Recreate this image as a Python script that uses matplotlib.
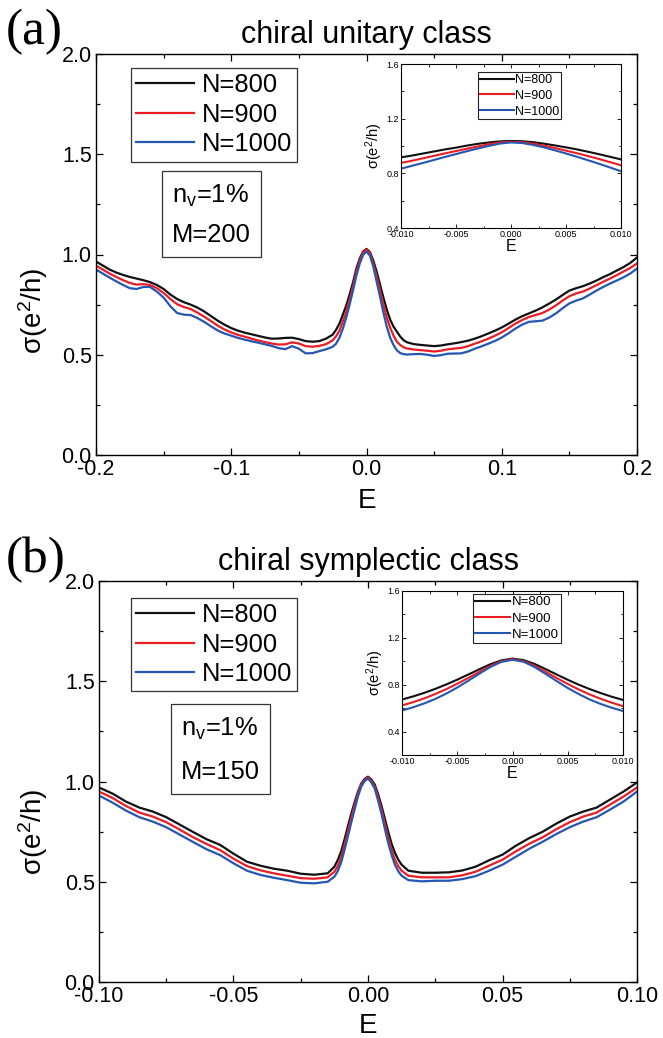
import numpy as np
import matplotlib
matplotlib.use("Agg")
import matplotlib.pyplot as plt
from matplotlib.ticker import MultipleLocator, FormatStrFormatter

plt.rcParams['font.family'] = ['Liberation Sans', 'DejaVu Sans']
plt.rcParams['mathtext.default'] = 'regular'
plt.rcParams['axes.unicode_minus'] = False

labels = ["N=800", "N=900", "N=1000"]
colors = ["#111111", "#ec1c24", "#2456b2"]

# (a) chiral unitary class, M=200
E_a = [-0.200, -0.195, -0.190, -0.185, -0.180, -0.175, -0.170, -0.165, -0.160, -0.155,
       -0.150, -0.145, -0.140, -0.135, -0.130, -0.125, -0.120, -0.115, -0.110, -0.105,
       -0.100, -0.095, -0.090, -0.085, -0.080, -0.075, -0.070, -0.065, -0.060, -0.055,
       -0.050, -0.045, -0.040, -0.035, -0.030,
       -0.0275, -0.025, -0.0225, -0.020, -0.0175, -0.015, -0.0125, -0.010, -0.0075, -0.005,
       -0.0025, 0.0, 0.0025, 0.005, 0.0075, 0.010, 0.0125, 0.015, 0.0175, 0.020,
       0.0225, 0.025, 0.0275,
       0.030, 0.035, 0.040, 0.045, 0.050, 0.055, 0.060, 0.065, 0.070, 0.075,
       0.080, 0.085, 0.090, 0.095, 0.100, 0.105, 0.110, 0.115, 0.120, 0.125,
       0.130, 0.135, 0.140, 0.145, 0.150, 0.155, 0.160, 0.165, 0.170, 0.175,
       0.180, 0.185, 0.190, 0.195, 0.200]
sig_a_800 = [0.965, 0.945, 0.925, 0.910, 0.898, 0.888, 0.880, 0.872, 0.862, 0.848,
             0.828, 0.800, 0.778, 0.762, 0.750, 0.735, 0.716, 0.693, 0.670, 0.650,
             0.633, 0.620, 0.610, 0.602, 0.594, 0.586, 0.580, 0.581, 0.584, 0.585,
             0.578, 0.568, 0.565, 0.568, 0.580,
             0.590, 0.600, 0.625, 0.655, 0.700, 0.745, 0.800, 0.860, 0.930, 0.980,
             1.015, 1.028, 1.012, 0.970, 0.915, 0.850, 0.785, 0.725, 0.675, 0.640,
             0.615, 0.590, 0.572,
             0.562, 0.553, 0.549, 0.546, 0.543, 0.546, 0.552, 0.557, 0.563, 0.570,
             0.580, 0.592, 0.606, 0.620, 0.636, 0.655, 0.675, 0.692, 0.706, 0.720,
             0.736, 0.755, 0.775, 0.798, 0.820, 0.832, 0.842, 0.855, 0.870, 0.887,
             0.902, 0.920, 0.937, 0.958, 0.985]
sig_a_900 = [0.945, 0.925, 0.905, 0.888, 0.872, 0.858, 0.850, 0.852, 0.848, 0.832,
             0.808, 0.778, 0.752, 0.738, 0.728, 0.710, 0.690, 0.668, 0.645, 0.626,
             0.611, 0.599, 0.590, 0.580, 0.571, 0.563, 0.556, 0.551, 0.552, 0.562,
             0.556, 0.543, 0.540, 0.544, 0.553,
             0.562, 0.572, 0.592, 0.620, 0.665, 0.715, 0.775, 0.840, 0.915, 0.970,
             1.010, 1.025, 1.005, 0.955, 0.890, 0.820, 0.750, 0.685, 0.635, 0.595,
             0.565, 0.548, 0.537,
             0.531, 0.526, 0.523, 0.520, 0.516, 0.520, 0.527, 0.531, 0.534, 0.543,
             0.555, 0.567, 0.580, 0.595, 0.612, 0.633, 0.655, 0.673, 0.688, 0.698,
             0.708, 0.725, 0.746, 0.770, 0.792, 0.806, 0.815, 0.830, 0.847, 0.864,
             0.880, 0.897, 0.915, 0.933, 0.955]
sig_a_1000 = [0.925, 0.905, 0.885, 0.866, 0.848, 0.832, 0.828, 0.838, 0.838, 0.815,
              0.785, 0.742, 0.708, 0.700, 0.698, 0.683, 0.664, 0.642, 0.621, 0.606,
              0.595, 0.584, 0.575, 0.567, 0.560, 0.552, 0.544, 0.533, 0.528, 0.543,
              0.530, 0.507, 0.508, 0.518, 0.527,
              0.533, 0.540, 0.555, 0.585, 0.630, 0.685, 0.750, 0.820, 0.895, 0.955,
              0.998, 1.015, 0.995, 0.940, 0.865, 0.790, 0.710, 0.640, 0.585, 0.548,
              0.522, 0.508, 0.503,
              0.501, 0.503, 0.504, 0.500, 0.494, 0.498, 0.505, 0.506, 0.507, 0.516,
              0.530, 0.542, 0.555, 0.569, 0.586, 0.607, 0.630, 0.650, 0.664, 0.667,
              0.670, 0.685, 0.706, 0.732, 0.756, 0.770, 0.781, 0.800, 0.820, 0.838,
              0.855, 0.870, 0.886, 0.905, 0.930]

# (b) chiral symplectic class, M=150
E_b = [-0.10, -0.095, -0.09, -0.085, -0.08, -0.075, -0.07, -0.065, -0.06, -0.055, -0.05,
       -0.045, -0.04, -0.035, -0.03, -0.025, -0.02, -0.015, -0.0125, -0.01125, -0.01,
       -0.00875, -0.0075, -0.00625, -0.005, -0.00375, -0.0025, -0.00125, 0.0,
       0.00125, 0.0025, 0.00375, 0.005, 0.00625, 0.0075, 0.00875, 0.01, 0.01125, 0.0125,
       0.015, 0.02, 0.025,
       0.03, 0.035, 0.04, 0.045, 0.05, 0.055, 0.06, 0.065, 0.07, 0.075, 0.08, 0.085,
       0.09, 0.095, 0.10]
sig_b_800 = [0.970, 0.940, 0.900, 0.870, 0.850, 0.822, 0.785, 0.748, 0.712, 0.684, 0.640,
             0.600, 0.580, 0.565, 0.555, 0.540, 0.535, 0.542, 0.575, 0.608, 0.650,
             0.710, 0.775, 0.838, 0.895, 0.948, 0.990, 1.013, 1.024,
             1.010, 0.985, 0.937, 0.880, 0.815, 0.750, 0.690, 0.645, 0.610, 0.585,
             0.555, 0.545, 0.545,
             0.547, 0.556, 0.575, 0.607, 0.635, 0.680, 0.718, 0.750, 0.790, 0.825, 0.850, 0.870,
             0.910, 0.950, 0.995]
sig_b_900 = [0.950, 0.918, 0.878, 0.845, 0.825, 0.797, 0.760, 0.722, 0.688, 0.658, 0.615,
             0.578, 0.557, 0.542, 0.530, 0.518, 0.515, 0.522, 0.550, 0.578, 0.620,
             0.683, 0.750, 0.818, 0.880, 0.938, 0.985, 1.008, 1.020,
             1.003, 0.975, 0.922, 0.860, 0.790, 0.720, 0.660, 0.610, 0.578, 0.555,
             0.530, 0.522, 0.522,
             0.522, 0.532, 0.550, 0.580, 0.610, 0.652, 0.690, 0.722, 0.762, 0.797, 0.825, 0.845,
             0.885, 0.925, 0.970]
sig_b_1000 = [0.930, 0.895, 0.855, 0.822, 0.800, 0.772, 0.735, 0.698, 0.662, 0.633, 0.592,
              0.555, 0.534, 0.520, 0.508, 0.495, 0.492, 0.500, 0.525, 0.553, 0.595,
              0.658, 0.725, 0.795, 0.860, 0.925, 0.975, 1.002, 1.015,
              0.995, 0.965, 0.905, 0.840, 0.765, 0.695, 0.635, 0.585, 0.552, 0.530,
              0.508, 0.502, 0.505,
              0.505, 0.513, 0.528, 0.555, 0.585, 0.625, 0.665, 0.700, 0.738, 0.772, 0.800, 0.822,
              0.860, 0.900, 0.950]

# insets, zoom around E=0
E_in = [-0.010, -0.009, -0.008, -0.007, -0.006, -0.005, -0.004, -0.003, -0.002, -0.001, 0.0,
        0.001, 0.002, 0.003, 0.004, 0.005, 0.006, 0.007, 0.008, 0.009, 0.010]
ins_a_800 = [0.917, 0.930, 0.945, 0.960, 0.975, 0.988, 1.003, 1.016, 1.026, 1.034, 1.037,
             1.035, 1.028, 1.017, 1.004, 0.990, 0.975, 0.958, 0.940, 0.921, 0.902]
ins_a_900 = [0.876, 0.892, 0.910, 0.928, 0.946, 0.963, 0.980, 0.997, 1.013, 1.026, 1.031,
             1.028, 1.017, 1.002, 0.985, 0.966, 0.947, 0.926, 0.905, 0.882, 0.859]
ins_a_1000 = [0.834, 0.855, 0.876, 0.898, 0.920, 0.941, 0.962, 0.982, 1.001, 1.018, 1.026,
              1.022, 1.008, 0.990, 0.968, 0.945, 0.921, 0.896, 0.870, 0.843, 0.815]
ins_b_800 = [0.673, 0.700, 0.730, 0.764, 0.802, 0.843, 0.887, 0.932, 0.975, 1.008, 1.023,
             1.010, 0.977, 0.933, 0.887, 0.842, 0.800, 0.762, 0.728, 0.697, 0.670]
ins_b_900 = [0.623, 0.651, 0.683, 0.720, 0.762, 0.808, 0.858, 0.910, 0.961, 1.001, 1.018,
             1.002, 0.962, 0.910, 0.857, 0.806, 0.759, 0.716, 0.679, 0.646, 0.617]
ins_b_1000 = [0.580, 0.607, 0.640, 0.678, 0.724, 0.776, 0.834, 0.894, 0.952, 0.995, 1.013,
              0.996, 0.951, 0.892, 0.831, 0.772, 0.720, 0.673, 0.635, 0.603, 0.575]


def main_panel(ax, E, curves, xlim, xmaj, xfmt, title, params, legpos, boxpos, lsp,
               ylab_xy, xpad):
    for y, c, lab in zip(curves, colors, labels):
        ax.plot(E, y, color=c, lw=1.6, label=lab, solid_joinstyle='round')
    ax.set_xlim(*xlim)
    ax.set_ylim(0, 2.0)
    ax.xaxis.set_major_locator(MultipleLocator(xmaj))
    ax.xaxis.set_minor_locator(MultipleLocator(xmaj / 2))
    ax.xaxis.set_major_formatter(FormatStrFormatter(xfmt))
    ax.yaxis.set_major_locator(MultipleLocator(0.5))
    ax.yaxis.set_minor_locator(MultipleLocator(0.25))
    ax.yaxis.set_major_formatter(FormatStrFormatter('%.1f'))
    ax.tick_params(which='both', direction='in', top=True, right=True, width=0.9)
    ax.tick_params(which='major', length=5, labelsize=15.5)
    ax.tick_params(which='minor', length=3)
    ax.tick_params(axis='x', pad=3)
    ax.tick_params(axis='y', pad=3)
    for s in ax.spines.values():
        s.set_linewidth(1.0)
    ax.set_xlabel('E', fontsize=20, labelpad=xpad)
    ax.set_ylabel(r'$\sigma$(e$^2$/h)', fontsize=20)
    ax.yaxis.set_label_coords(*ylab_xy)
    ax.set_title(title, fontsize=22, pad=8)
    leg = ax.legend(loc='upper left', bbox_to_anchor=legpos, fontsize=18.4, frameon=True,
                    fancybox=False, edgecolor='#333333', framealpha=1, borderpad=0.2,
                    handlelength=2.25, handletextpad=0.3, labelspacing=0.22, borderaxespad=0)
    leg.get_frame().set_linewidth(0.9)
    ax.text(boxpos[0], boxpos[1], params, transform=ax.transAxes, fontsize=18.4,
            ha='left', va='top', linespacing=lsp,
            bbox=dict(boxstyle='square,pad=0.4', fc='white', ec='#333333', lw=0.9))


def inset_panel(ax, curves, ylim, legpos, fs):
    for y, c, lab in zip(curves, colors, labels):
        ax.plot(E_in, y, color=c, lw=1.5, label=lab)
    ax.set_xlim(-0.01, 0.01)
    ax.set_ylim(*ylim)
    ax.xaxis.set_major_locator(MultipleLocator(0.005))
    ax.xaxis.set_minor_locator(MultipleLocator(0.0025))
    ax.xaxis.set_major_formatter(FormatStrFormatter('%.3f'))
    ax.yaxis.set_major_locator(MultipleLocator(0.4))
    ax.yaxis.set_minor_locator(MultipleLocator(0.2))
    ax.yaxis.set_major_formatter(FormatStrFormatter('%.1f'))
    ax.tick_params(which='both', direction='in', top=True, right=True, width=0.6)
    ax.tick_params(which='major', length=3, labelsize=6.5, pad=1.5)
    ax.tick_params(which='minor', length=1.8)
    for s in ax.spines.values():
        s.set_linewidth(0.8)
    ax.set_xlabel('E', fontsize=11.5, labelpad=0)
    ax.set_ylabel(r'$\sigma$(e$^2$/h)', fontsize=10.5, labelpad=1)
    leg = ax.legend(loc='upper left', bbox_to_anchor=legpos, fontsize=fs, frameon=True,
                    fancybox=False, edgecolor='#222222', framealpha=1, borderpad=0.15,
                    handlelength=2.7, handletextpad=0.1, labelspacing=0.3, borderaxespad=0)
    leg.get_frame().set_linewidth(0.8)


fig = plt.figure(figsize=(6.63, 10.38), dpi=100)
W, H = 663.0, 1038.0

ax_a = fig.add_axes([96 / W, 1 - 455 / H, 541 / W, 401 / H])
main_panel(ax_a, E_a, [sig_a_800, sig_a_900, sig_a_1000], (-0.2, 0.2), 0.1, '%.1f',
           'chiral unitary class', 'n$_v$=1%\nM=200', (0.065, 0.965), (0.14, 0.68), 1.75,
           (-0.085, 0.36), 6)

ax_b = fig.add_axes([99 / W, 1 - 982 / H, 538 / W, 401 / H])
main_panel(ax_b, E_b, [sig_b_800, sig_b_900, sig_b_1000], (-0.1, 0.1), 0.05, '%.2f',
           'chiral symplectic class', 'n$_v$=1%\nM=150', (0.06, 0.958), (0.152, 0.665), 1.95,
           (-0.091, 0.375), 4.5)

in_a = fig.add_axes([401 / W, 1 - 228 / H, 220 / W, 164 / H])
inset_panel(in_a, [ins_a_800, ins_a_900, ins_a_1000], (0.4, 1.6), (0.35, 0.95), 9)

in_b = fig.add_axes([402 / W, 1 - 755 / H, 221 / W, 164 / H])
inset_panel(in_b, [ins_b_800, ins_b_900, ins_b_1000], (0.2, 1.6), (0.32, 0.98), 9.5)

fig.text(6 / W, 1 - 44 / H, '(a)', fontsize=37, family='Liberation Serif', va='baseline')
fig.text(6 / W, 1 - 572 / H, '(b)', fontsize=37, family='Liberation Serif', va='baseline')

fig.savefig('out.png', dpi=100)
